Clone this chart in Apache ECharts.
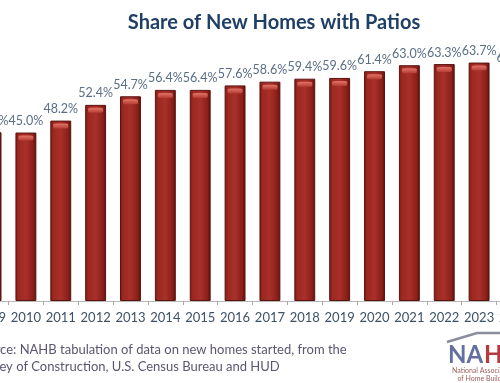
<!DOCTYPE html>
<html><head><meta charset="utf-8">
<script src="https://cdn.jsdelivr.net/npm/echarts@6/dist/echarts.min.js"></script>
<style>html,body{margin:0;padding:0;background:#fff;overflow:hidden;width:500px;height:383px;position:relative}
#c{width:559px;height:383px;position:absolute;left:-27px;top:0}</style>
</head><body><div id="c"></div>
<script>
const years = ["2009","2010","2011","2012","2013","2014","2015","2016","2017","2018","2019","2020","2021","2022","2023","2024"];
const shares = [45.1,45.0,48.2,52.4,54.7,56.4,56.4,57.6,58.6,59.4,59.6,61.4,63.0,63.3,63.7,61.9];
const titleText = "Share of New Homes with Patios";
const sourceLines = ["Source: NAHB tabulation of data on new homes started, from the","Survey of Construction, U.S. Census Bureau and HUD"];

const OX = 27; // container offset (chart extends beyond the visible window)
const chart = echarts.init(document.getElementById('c'), null, {renderer:'canvas'});
const F = 'Lato, "Open Sans", sans-serif';
chart.setOption({
  animation:false,
  title:{text:titleText,left:269+OX,top:8,textAlign:'center',
    textStyle:{fontFamily:F,fontSize:20,fontWeight:'bold',color:'#1f3f66'}},
  grid:{left:0,right:0,top:39,bottom:82,containLabel:false},
  xAxis:{type:'category',data:years,
    axisLine:{lineStyle:{color:'#b8b8b8',width:1}},
    axisTick:{show:true,alignWithLabel:false,length:4,lineStyle:{color:'#a8a8a8'}},
    axisLabel:{fontFamily:F,fontSize:13,color:'#3d5168',margin:10,interval:0}},
  yAxis:{type:'value',min:0,max:70,show:false,splitLine:{show:false}},
  series:[{
    type:'bar',data:shares,barWidth:'60%',
    itemStyle:{
      color:new echarts.graphic.LinearGradient(0,0,1,0,[
        {offset:0,color:'#7e1b15'},{offset:0.15,color:'#9c2820'},
        {offset:0.5,color:'#a8302a'},{offset:0.85,color:'#8a1f18'},{offset:1,color:'#5a100c'}]),
      borderColor:'#5a1410',borderWidth:1},
    label:{show:true,position:'top',distance:5,formatter:p=>p.value.toFixed(1)+'%',
      fontFamily:F,fontSize:12.5,color:'#5a6e85'}
  },{
    type:'pictorialBar',data:shares,symbol:'roundRect',symbolSize:[15,5],
    symbolPosition:'end',symbolOffset:[0,3],z:3,silent:true,
    itemStyle:{color:new echarts.graphic.LinearGradient(0,0,0,1,[
      {offset:0,color:'#e27468'},{offset:1,color:'#b63d33'}])}
  }],
  graphic:[
    {type:'text',left:-26+OX,top:341,style:{text:sourceLines.join('\n'),fontFamily:F,fontSize:13,lineHeight:17,fill:'#5c5670'}},
    {type:'polyline',shape:{points:[[447+OX,342],[477+OX,333],[530+OX,333]]},style:{stroke:'#8a8e9c',lineWidth:2.5,fill:null}},
    {type:'text',left:448+OX,top:343,style:{text:'NA',fontFamily:F,fontSize:24,fontWeight:'bold',fill:'#646fa0'}},
    {type:'text',left:484+OX,top:343,style:{text:'H',fontFamily:F,fontSize:24,fontWeight:'bold',fill:'#b63a40'}},
    {type:'text',left:452+OX,top:367,style:{text:'National Associa\n   of Home Build',fontFamily:F,fontSize:7,lineHeight:8,fill:'#a06060'}}
  ]
});
</script></body></html>
